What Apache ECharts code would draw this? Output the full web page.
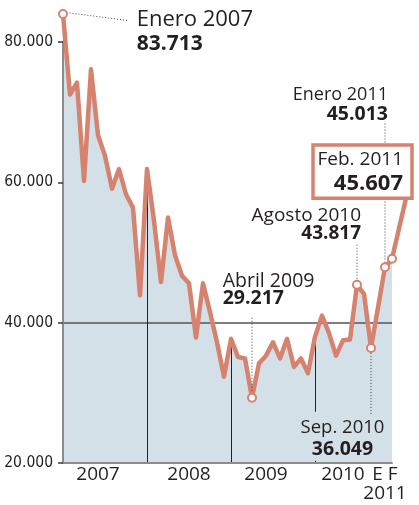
<!DOCTYPE html>
<html><head><meta charset="utf-8">
<script src="https://cdn.jsdelivr.net/npm/echarts@6/dist/echarts.min.js"></script>
<style>html,body{margin:0;padding:0;background:#fff}#c{width:419px;height:505px}</style>
</head><body><div id="c"></div>
<script>
// ---- data ----
const categories = [
  'Ene 2007','Feb 2007','Mar 2007','Abr 2007','May 2007','Jun 2007','Jul 2007','Ago 2007','Sep 2007','Oct 2007','Nov 2007','Dic 2007',
  'Ene 2008','Feb 2008','Mar 2008','Abr 2008','May 2008','Jun 2008','Jul 2008','Ago 2008','Sep 2008','Oct 2008','Nov 2008','Dic 2008',
  'Ene 2009','Feb 2009','Mar 2009','Abr 2009','May 2009','Jun 2009','Jul 2009','Ago 2009','Sep 2009','Oct 2009','Nov 2009','Dic 2009',
  'Ene 2010','Feb 2010','Mar 2010','Abr 2010','May 2010','Jun 2010','Jul 2010','Ago 2010','Sep 2010',
  'Oct-Dic 2010',
  'Ene 2011','Feb 2011'
];
const values = [
  84000, 72500, 74200, 60200, 76100, 66700, 63800, 59100, 61900, 58300, 56400, 43900,
  61900, 54500, 45800, 55000, 49600, 46700, 45600, 37900, 45600, 41500, 37200, 32300,
  37700, 35100, 34900, 29300, 34200, 35300, 37200, 34900, 37700, 33700, 34900, 32800,
  38000, 41000, 38500, 35300, 37500, 37600, 45400, 44100, 36400,
  null,
  47900, 49100
];
const yTicks = [20000, 40000, 60000, 80000];
const refLineValue = 40000;
const yearStarts = ['Ene 2008', 'Ene 2009', 'Ene 2010'];
const yearLabels = {'Jun 2007': '2007', 'Jul 2008': '2008', 'Jun 2009': '2009', 'May 2010': '2010', 'Ene 2011': 'E F\n2011'};
const annotations = [
  {cat: 'Ene 2007', title: 'Enero 2007', value: '83.713'},
  {cat: 'Abr 2009', title: 'Abril 2009', value: '29.217'},
  {cat: 'Jul 2010', title: 'Agosto 2010', value: '43.817'},
  {cat: 'Sep 2010', title: 'Sep. 2010', value: '36.049'},
  {cat: 'Ene 2011', title: 'Enero 2011', value: '45.013'},
  {cat: 'Feb 2011', title: 'Feb. 2011', value: '45.607'}
];

// ---- styles ----
const ORANGE = '#d5826f', FILL = '#d3e0e8', TEXT = '#231f20', AXIS = '#8c8c8c';
const FONT = '"Open Sans", sans-serif';
const idx = c => categories.indexOf(c);
const marked = new Set(annotations.map(a => idx(a.cat)));
const fmt = v => String(v).replace(/\B(?=(\d{3})+(?!\d))/g, '.');

const chart = echarts.init(document.getElementById('c'), null, {renderer: 'canvas'});
chart.setOption({
  animation: false,
  grid: {left: 63, right: 27, top: 42, bottom: 42, containLabel: false, outerBoundsMode: 'none'},
  xAxis: {
    type: 'category', data: categories, boundaryGap: false, z: 4,
    axisLine: {show: true, lineStyle: {color: AXIS, width: 2}},
    axisTick: {show: false},
    splitLine: {show: false},
    axisLabel: {
      interval: 0, hideOverlap: false, showMinLabel: true, showMaxLabel: true,
      formatter: v => yearLabels[v] || '',
      color: TEXT, fontFamily: FONT, fontSize: 19, lineHeight: 19, margin: 2
    }
  },
  yAxis: {
    type: 'value', min: yTicks[0], max: yTicks[yTicks.length - 1], interval: yTicks[1] - yTicks[0], z: 4,
    axisLine: {show: true, lineStyle: {color: AXIS, width: 2}},
    axisTick: {show: true, length: 5, lineStyle: {color: '#3a3a3a', width: 1.5}},
    splitLine: {show: false},
    axisLabel: {formatter: fmt, color: TEXT, fontFamily: '"DejaVu Sans Condensed", "Open Sans", sans-serif', fontSize: 15.5, margin: 10}
  },
  series: [
    {type: 'line', data: values, connectNulls: true, symbol: 'none', clip: false, silent: true, z: 1,
     lineStyle: {width: 0, opacity: 0}, areaStyle: {color: FILL, opacity: 1, origin: 'start'}},
    {type: 'line', data: [], z: 2, silent: true,
     markLine: {silent: true, z: 2, symbol: 'none', label: {show: false}, animation: false,
       lineStyle: {color: '#222', width: 1, type: 'solid'},
       data: [
         {yAxis: refLineValue, lineStyle: {color: '#555', width: 1.5, type: 'solid'}},
         ...yearStarts.map(c => [{coord: [idx(c), yTicks[0]]}, {coord: [idx(c), values[idx(c)]]}])
       ]}},
    {type: 'line', data: values, connectNulls: true, clip: false, z: 3, silent: true,
     showSymbol: true, showAllSymbol: true, symbol: 'circle',
     symbolSize: (v, p) => marked.has(p.dataIndex) ? 8 : 0,
     itemStyle: {color: '#fff', borderColor: ORANGE, borderWidth: 2},
     lineStyle: {color: ORANGE, width: 4.5, join: 'round', cap: 'round'}}
  ]
});

// ---- annotations (positioned from library pixel conversion) ----
const P = c => chart.convertToPixel({gridIndex: 0}, [idx(c), values[idx(c)]]);
const T = (text, x, y, size, bold, align) => ({
  type: 'text', z: 20, x: x, y: y,
  style: {text: text, fill: TEXT, fontSize: size, fontFamily: FONT, fontWeight: bold ? 'bold' : 'normal',
          align: align, verticalAlign: 'middle', textAlign: align, textVerticalAlign: 'middle'}
});
const DOT = (x1, y1, x2, y2) => ({
  type: 'line', z: 15, shape: {x1, y1, x2, y2},
  style: {stroke: '#444', lineWidth: 1, lineDash: [1, 2]}
});
const a = {};
annotations.forEach(n => { a[n.cat] = {p: P(n.cat), n: n}; });
const els = [];
// Enero 2007
{ const {p, n} = a['Ene 2007'];
  els.push(DOT(p[0] + 6.5, p[1] - 1, p[0] + 65, p[1] + 6.6));
  els.push(T(n.title, p[0] + 73.7, p[1] + 5.6, 22, false, 'left'));
  els.push(T(n.value, p[0] + 73.7, p[1] + 29.8, 21, true, 'left')); }
// Abril 2009
{ const {p, n} = a['Abr 2009'];
  els.push(DOT(p[0], p[1] - 80, p[0], p[1] - 5));
  els.push(T(n.title, p[0] - 29.3, p[1] - 116.7, 19.5, false, 'left'));
  els.push(T(n.value, p[0] - 29.3, p[1] - 99.2, 19.5, true, 'left')); }
// Agosto 2010
{ const {p, n} = a['Jul 2010'];
  els.push(DOT(p[0], p[1] - 40, p[0], p[1] - 5));
  els.push(T(n.title, p[0] + 4, p[1] - 69.2, 19, false, 'right'));
  els.push(T(n.value, p[0] + 4, p[1] - 50.8, 19, true, 'right')); }
// Sep 2010
{ const {p, n} = a['Sep 2010'];
  const cx = p[0] - 28.5;
  els.push({type: 'rect', z: 10, shape: {x: cx - 46, y: p[1] + 63.7, width: 92, height: 49}, style: {fill: FILL}});
  els.push(DOT(p[0], p[1] + 5, p[0], p[1] + 67.7));
  els.push(T(n.title, cx, p[1] + 79.4, 18.5, false, 'center'));
  els.push(T(n.value, cx, p[1] + 101.9, 19.5, true, 'center')); }
// Enero 2011
{ const {p, n} = a['Ene 2011'];
  els.push(DOT(p[0], p[1] - 143.7, p[0], p[1] - 5));
  els.push(T(n.title, p[0] + 3, p[1] - 172.7, 18, false, 'right'));
  els.push(T(n.value, p[0] + 3, p[1] - 153, 19.5, true, 'right')); }
// Feb 2011 callout box
{ const {p, n} = a['Feb 2011'];
  const bx = 313, by = 145, bw = 99, bh = 53.3;
  els.push({type: 'line', z: 2.9, shape: {x1: p[0], y1: p[1], x2: bx + bw - 6, y2: by + bh},
            style: {stroke: ORANGE, lineWidth: 4.5, lineCap: 'round'}});
  els.push({type: 'rect', z: 18, shape: {x: bx, y: by, width: bw, height: bh},
            style: {fill: '#fff', stroke: ORANGE, lineWidth: 3.5}});
  els.push(T(n.title, bx + 90, by + 14.3, 19, false, 'right'));
  els.push(T(n.value, bx + 90, by + 38.3, 22, true, 'right')); }
chart.setOption({graphic: {elements: els}});
</script>
</body></html>
